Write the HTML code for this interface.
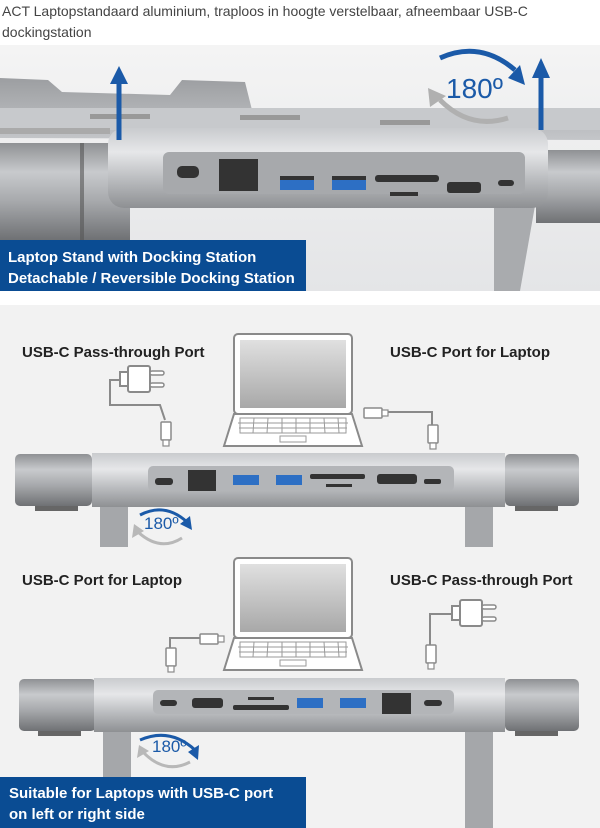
<!DOCTYPE html>
<html><head><meta charset="utf-8"><style>
html,body{margin:0;padding:0;background:#fff;width:600px;height:828px;overflow:hidden}
.t{position:absolute;left:2px;top:1px;font:14px/21px "Liberation Sans",sans-serif;color:#444;width:590px}
svg{position:absolute;left:0;top:0}
</style></head><body>
<div class="t">ACT Laptopstandaard aluminium, traploos in hoogte verstelbaar, afneembaar USB-C dockingstation</div>
<svg width="600" height="828" xmlns="http://www.w3.org/2000/svg" font-family="Liberation Sans, sans-serif">
<defs>
<linearGradient id="bg1" x1="0" y1="0" x2="0" y2="1"><stop offset="0" stop-color="#f4f4f4"/><stop offset="1" stop-color="#e4e5e7"/></linearGradient>
<linearGradient id="metal" x1="0" y1="0" x2="0" y2="1"><stop offset="0" stop-color="#c9cbce"/><stop offset="0.3" stop-color="#e6e7e9"/><stop offset="0.65" stop-color="#b9bbbe"/><stop offset="1" stop-color="#8e9093"/></linearGradient>
<linearGradient id="metal2" x1="0" y1="0" x2="0" y2="1"><stop offset="0" stop-color="#8f9194"/><stop offset="0.3" stop-color="#c8cacd"/><stop offset="0.6" stop-color="#a7a9ac"/><stop offset="1" stop-color="#6f7174"/></linearGradient>
<linearGradient id="plate" x1="0" y1="0" x2="0" y2="1"><stop offset="0" stop-color="#9c9ea1"/><stop offset="1" stop-color="#c4c6c9"/></linearGradient>
<linearGradient id="scr" x1="0" y1="0" x2="0" y2="1"><stop offset="0" stop-color="#e0e0e0"/><stop offset="1" stop-color="#a8a8a8"/></linearGradient>
<g id="laptop">
<rect x="0" y="0" width="118" height="80" rx="4" fill="#fff" stroke="#8a8a8a" stroke-width="2"/>
<rect x="6" y="6" width="106" height="68" fill="url(#scr)"/>
<path d="M0 80 L118 80 L128 112 L-10 112 Z" fill="#fff" stroke="#8a8a8a" stroke-width="2"/>
<g stroke="#9a9a9a" stroke-width="1" fill="none"><rect x="6" y="84" width="106" height="15"/><line x1="4" y1="89" x2="114" y2="89"/><line x1="5" y1="94" x2="113" y2="94"/>
<line x1="20" y1="84" x2="19" y2="99"/><line x1="34" y1="84" x2="33" y2="99"/><line x1="48" y1="84" x2="48" y2="99"/><line x1="62" y1="84" x2="62" y2="99"/><line x1="76" y1="84" x2="76" y2="99"/><line x1="90" y1="84" x2="91" y2="99"/><line x1="104" y1="84" x2="105" y2="99"/>
<rect x="46" y="102" width="26" height="6"/></g>
</g>
<g id="plug"><rect x="0" y="0" width="22" height="26" rx="2" fill="#fff" stroke="#8a8a8a" stroke-width="2"/><rect x="-8" y="6" width="8" height="14" fill="#fff" stroke="#8a8a8a" stroke-width="2"/><rect x="22" y="5" width="14" height="4" rx="2" fill="#fff" stroke="#8a8a8a" stroke-width="1.5"/><rect x="22" y="17" width="14" height="4" rx="2" fill="#fff" stroke="#8a8a8a" stroke-width="1.5"/></g>
<g id="usbc"><rect x="-4" y="0" width="10" height="18" rx="1" fill="#fff" stroke="#8a8a8a" stroke-width="1.5"/><rect x="-2" y="18" width="6" height="6" fill="#fff" stroke="#8a8a8a" stroke-width="1.2"/></g>
<g id="usbch"><rect x="0" y="-4" width="18" height="10" rx="1" fill="#fff" stroke="#8a8a8a" stroke-width="1.5"/><rect x="18" y="-2" width="6" height="6" fill="#fff" stroke="#8a8a8a" stroke-width="1.2"/></g>
</defs>

<!-- Photo 1 -->
<rect x="0" y="45" width="600" height="246" fill="url(#bg1)"/>
<path d="M0 78 L48 80 L62 92 L170 95 L182 80 L245 82 L252 110 L600 118 L600 140 L0 138 Z" fill="url(#plate)"/>
<rect x="0" y="108" width="600" height="22" fill="#c7c9cc"/>
<rect x="90" y="114" width="60" height="5" fill="#999"/><rect x="240" y="115" width="60" height="5" fill="#999"/><rect x="380" y="120" width="50" height="5" fill="#999"/>
<rect x="0" y="128" width="110" height="6" fill="#aaa"/>
<path d="M494 200 L536 200 L520 291 L494 291 Z" fill="#a9abae"/>
<rect x="0" y="143" width="130" height="97" fill="url(#metal2)"/>
<rect x="80" y="143" width="4" height="97" fill="#555" opacity="0.6"/>
<rect x="536" y="150" width="64" height="73" fill="url(#metal2)"/>
<rect x="108" y="128" width="440" height="80" rx="16" fill="url(#metal)"/>
<rect x="163" y="152" width="362" height="42" rx="6" fill="#a7a9ac"/>
<g fill="#333">
<rect x="177" y="166" width="22" height="12" rx="5"/>
<rect x="219" y="159" width="39" height="32"/>
<rect x="280" y="180" width="34" height="10" fill="#2d6fc4"/><rect x="280" y="176" width="34" height="4"/>
<rect x="332" y="180" width="34" height="10" fill="#2d6fc4"/><rect x="332" y="176" width="34" height="4"/>
<rect x="375" y="175" width="64" height="7" rx="3"/><rect x="390" y="192" width="28" height="4"/>
<rect x="447" y="182" width="34" height="11" rx="3"/>
<rect x="498" y="180" width="16" height="6" rx="3"/>
</g>
<g stroke="#1b5aa8" stroke-width="5" fill="#1b5aa8">
<line x1="119" y1="140" x2="119" y2="80"/><path d="M110 84 L119 66 L128 84 Z" stroke="none"/>
<line x1="541" y1="130" x2="541" y2="75"/><path d="M532 78 L541 58 L550 78 Z" stroke="none"/>
</g>
<path d="M440 58 Q480 40 515 70" stroke="#1b5aa8" stroke-width="5" fill="none"/><path d="M508 78 L525 85 L520 65 Z" fill="#1b5aa8"/>
<path d="M508 118 Q470 130 440 100" stroke="#b0b0b0" stroke-width="5" fill="none"/><path d="M430 107 L428 88 L446 96 Z" fill="#b0b0b0"/>
<text x="446" y="98" font-size="28" fill="#1b5aa8">180º</text>
<rect x="0" y="240" width="306" height="51" fill="#0a4c93"/>
<text x="8" y="262" font-size="15" font-weight="bold" fill="#fff">Laptop Stand with Docking Station</text>
<text x="8" y="283" font-size="15" font-weight="bold" fill="#fff">Detachable / Reversible Docking Station</text>

<!-- Photo 2 -->
<rect x="0" y="305" width="600" height="523" fill="#f2f2f2"/>
<text x="22" y="357" font-size="15" font-weight="bold" fill="#222">USB-C Pass-through Port</text>
<text x="390" y="357" font-size="15" font-weight="bold" fill="#222">USB-C Port for Laptop</text>
<use href="#laptop" x="234" y="334"/>
<path d="M128 380 L110 380 L110 405 L160 405 L165 420" stroke="#8a8a8a" stroke-width="2" fill="none"/>
<use href="#plug" x="128" y="366"/>
<use href="#usbc" x="165" y="422"/>
<path d="M388 412 L432 412 L432 425" stroke="#8a8a8a" stroke-width="2" fill="none"/>
<use href="#usbch" x="364" y="412"/>
<use href="#usbc" x="432" y="425"/>
<!-- bar1 -->
<rect x="100" y="505" width="28" height="42" fill="#a5a7aa"/><rect x="465" y="505" width="28" height="42" fill="#a5a7aa"/>
<rect x="35" y="505" width="43" height="6" fill="#666"/><rect x="515" y="505" width="43" height="6" fill="#666"/>
<rect x="15" y="454" width="77" height="52" rx="5" fill="url(#metal2)"/>
<rect x="505" y="454" width="74" height="52" rx="5" fill="url(#metal2)"/>
<rect x="92" y="453" width="33" height="54" fill="url(#metal)"/><rect x="470" y="453" width="35" height="54" fill="url(#metal)"/>
<rect x="124" y="453" width="347" height="54" fill="url(#metal)"/>
<rect x="148" y="466" width="306" height="25" rx="5" fill="#b3b5b8"/>
<g fill="#333"><rect x="155" y="478" width="18" height="7" rx="3"/><rect x="188" y="470" width="28" height="21"/>
<rect x="233" y="475" width="26" height="10" fill="#2d6fc4"/><rect x="276" y="475" width="26" height="10" fill="#2d6fc4"/>
<rect x="310" y="474" width="55" height="5" rx="2"/><rect x="326" y="484" width="26" height="3"/>
<rect x="377" y="474" width="40" height="10" rx="3"/><rect x="424" y="479" width="17" height="5" rx="2"/></g>
<path d="M140 515 Q165 502 187 522" stroke="#1b5aa8" stroke-width="3" fill="none"/><path d="M180 524 L192 530 L190 516 Z" fill="#1b5aa8"/>
<path d="M182 538 Q160 552 138 532" stroke="#b8b8b8" stroke-width="3" fill="none"/><path d="M132 538 L134 524 L144 531 Z" fill="#b8b8b8"/>
<text x="144" y="529" font-size="17" fill="#1b5aa8">180º</text>

<text x="22" y="585" font-size="15" font-weight="bold" fill="#222">USB-C Port for Laptop</text>
<text x="390" y="585" font-size="15" font-weight="bold" fill="#222">USB-C Pass-through Port</text>
<use href="#laptop" x="234" y="558"/>
<path d="M200 638 L170 638 L170 650" stroke="#8a8a8a" stroke-width="2" fill="none"/>
<use href="#usbch" x="200" y="638"/>
<use href="#usbc" x="170" y="648"/>
<path d="M451 614 L430 614 L430 645" stroke="#8a8a8a" stroke-width="2" fill="none"/>
<use href="#plug" x="460" y="600"/>
<use href="#usbc" x="430" y="645"/>
<!-- bar2 -->
<rect x="103" y="730" width="28" height="50" fill="#a5a7aa"/><rect x="465" y="730" width="28" height="98" fill="#a5a7aa"/>
<rect x="38" y="730" width="43" height="6" fill="#666"/><rect x="515" y="730" width="43" height="6" fill="#666"/>
<rect x="19" y="679" width="77" height="52" rx="5" fill="url(#metal2)"/>
<rect x="505" y="679" width="74" height="52" rx="5" fill="url(#metal2)"/>
<rect x="94" y="678" width="34" height="54" fill="url(#metal)"/><rect x="470" y="678" width="35" height="54" fill="url(#metal)"/>
<rect x="127" y="678" width="344" height="54" fill="url(#metal)"/>
<rect x="153" y="690" width="301" height="24" rx="5" fill="#b3b5b8"/>
<g fill="#333"><rect x="160" y="700" width="17" height="6" rx="3"/><rect x="192" y="698" width="31" height="10" rx="3"/>
<rect x="248" y="697" width="26" height="3"/><rect x="233" y="705" width="56" height="5" rx="2"/>
<rect x="297" y="698" width="26" height="10" fill="#2d6fc4"/><rect x="340" y="698" width="26" height="10" fill="#2d6fc4"/>
<rect x="382" y="693" width="29" height="21"/><rect x="424" y="700" width="18" height="6" rx="3"/></g>
<path d="M140 740 Q170 727 195 750" stroke="#1b5aa8" stroke-width="3" fill="none"/><path d="M188 752 L198 760 L199 745 Z" fill="#1b5aa8"/>
<path d="M190 762 Q165 775 143 752" stroke="#b8b8b8" stroke-width="3" fill="none"/><path d="M137 758 L139 745 L149 751 Z" fill="#b8b8b8"/>
<text x="152" y="752" font-size="17" fill="#1b5aa8">180º</text>
<rect x="0" y="777" width="306" height="51" fill="#0a4c93"/>
<text x="9" y="798" font-size="15" font-weight="bold" fill="#fff">Suitable for Laptops with USB-C port</text>
<text x="9" y="819" font-size="15" font-weight="bold" fill="#fff">on left or right side</text>
</svg>
</body></html>
